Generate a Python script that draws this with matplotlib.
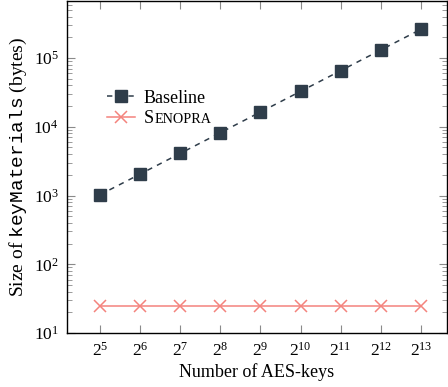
import matplotlib
matplotlib.use("Agg")
import matplotlib.pyplot as plt
from matplotlib.ticker import LogLocator, FixedLocator, FixedFormatter, NullFormatter

plt.rcParams['font.family'] = ['Liberation Serif', 'DejaVu Serif']
plt.rcParams['mathtext.fontset'] = 'custom'
plt.rcParams['mathtext.rm'] = 'Liberation Serif'
plt.rcParams['mathtext.it'] = 'Liberation Serif:italic'
plt.rcParams['mathtext.tt'] = 'Liberation Mono'
plt.rcParams['font.size'] = 12

exponents = [5, 6, 7, 8, 9, 10, 11, 12, 13]
num_keys = [2 ** e for e in exponents]
x_labels = [r'$2^{%d}$' % e for e in exponents]
baseline = [1024, 2048, 4096, 8192, 16384, 32768, 65536, 131072, 262144]
senopra = [25, 25, 25, 25, 25, 25, 25, 25, 25]

c_base = '#2f3d4a'
c_sen = '#f4837d'

fig = plt.figure(figsize=(4.48, 3.87), dpi=100)
ax = fig.add_axes([67/448, 1 - 333/387, (447 - 67)/448, (333 - 1)/387])

ax.plot(num_keys, baseline, color=c_base, ls=(0, (3.5, 3.5)), lw=1.1,
        marker='s', ms=8.5, mec=c_base, label='Baseline')
ax.plot(num_keys, senopra, color=c_sen, ls='-', lw=1.1,
        marker='x', ms=8.5, mew=1.1, label='S')

ax.set_xscale('log', base=2)
ax.set_yscale('log')
ax.set_xlim(2 ** 4.18, 2 ** 13.65)
ax.set_ylim(10, 10 ** 5.83)

ax.xaxis.set_major_locator(FixedLocator(num_keys))
ax.xaxis.set_major_formatter(FixedFormatter(x_labels))
ax.xaxis.set_minor_locator(FixedLocator([]))
ax.yaxis.set_major_locator(LogLocator(base=10, numticks=10))
ax.yaxis.set_minor_locator(LogLocator(base=10, subs=range(2, 10), numticks=10))
ax.yaxis.set_minor_formatter(NullFormatter())

ax.tick_params(which='both', direction='in', top=True, right=True, color='#8a8a8a')
ax.tick_params(which='major', length=6, width=0.8, labelsize=12.5, pad=6)
ax.tick_params(which='minor', length=3.5, width=0.6)
for s in ax.spines.values():
    s.set_linewidth(1.0)

ax.set_xlabel('Number of AES-keys', fontsize=13, labelpad=3)
ax.set_ylabel(r'Size of $\mathtt{keyMaterials}$ (bytes)', fontsize=14, labelpad=3)

leg = ax.legend(loc='upper left', bbox_to_anchor=(0.085, 0.755), frameon=False,
                fontsize=13, handlelength=1.6, handletextpad=0.45, labelspacing=0.2,
                borderaxespad=0)
s_text = leg.get_texts()[1]
ax.annotate('ENOPRA', xy=(1, 0), xycoords=s_text, xytext=(0.3, 0.7),
            textcoords='offset points', va='bottom', ha='left',
            fontsize=10.2, annotation_clip=False, zorder=10)

fig.savefig('out.png', dpi=100)
